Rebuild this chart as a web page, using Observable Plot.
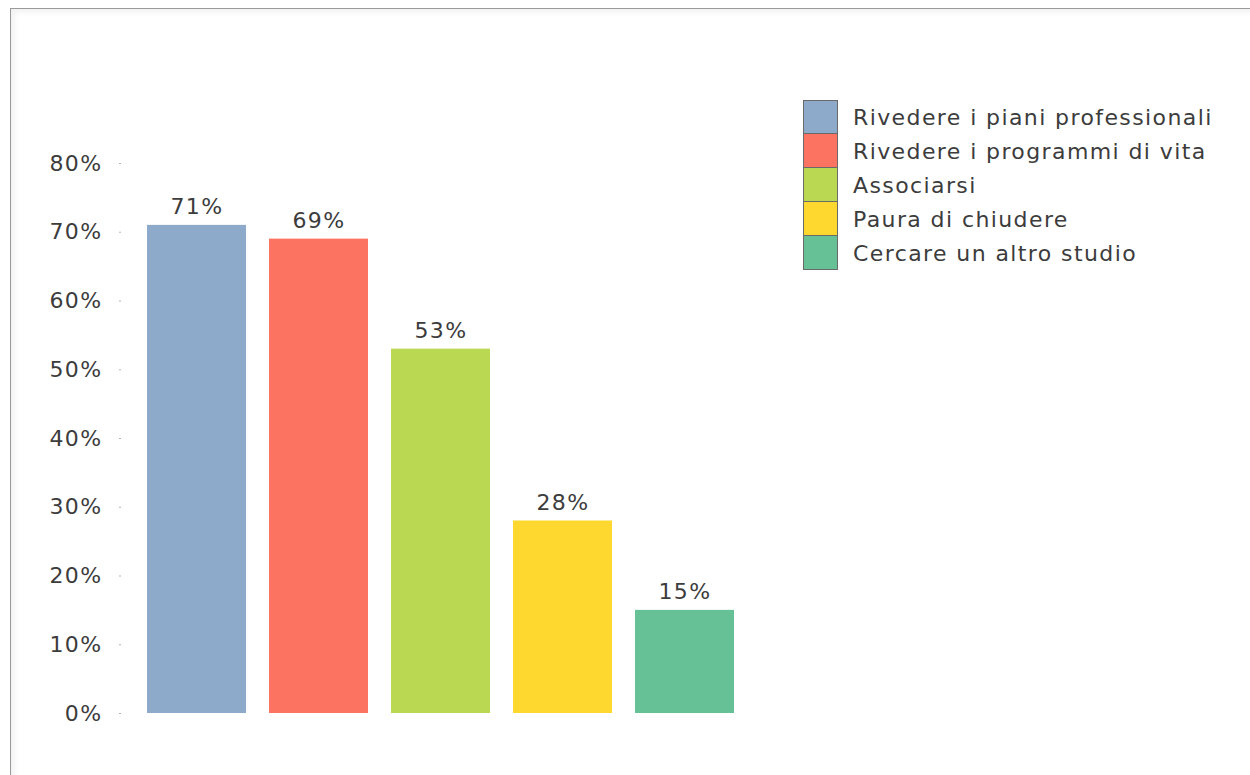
<!DOCTYPE html>
<html>
<head>
<meta charset="utf-8">
<script src="https://cdn.jsdelivr.net/npm/d3@7"></script>
<script src="https://cdn.jsdelivr.net/npm/@observablehq/plot@0.6"></script>
<style>
  html, body { margin: 0; padding: 0; background: #fff; overflow: hidden; width: 1250px; height: 775px; }
  #frame { position: absolute; left: 10px; top: 8px; width: 1300px; height: 820px; border: 1px solid #9a9a9a; box-shadow: inset 3px 3px 6px rgba(0,0,0,0.06); }
  #chart { position: absolute; left: 0; top: 0; }
  #legend { position: absolute; left: 803px; top: 100px; font-family: "DejaVu Sans", sans-serif; font-size: 22px; letter-spacing: 1.4px; color: #3c3c3c; }
  .row { display: flex; align-items: center; height: 34px; }
  .sw { width: 33px; height: 33px; border: 1px solid #6a6a6a; box-sizing: content-box; margin-top: -1px; }
  .row:first-child .sw { margin-top: 0; }
  .lab { margin-left: 15px; white-space: nowrap; }
</style>
</head>
<body>
<div id="frame"></div>
<div id="chart"></div>
<div id="legend"></div>
<script>
const categories = [
  "Rivedere i piani professionali",
  "Rivedere i programmi di vita",
  "Associarsi",
  "Paura di chiudere",
  "Cercare un altro studio"
];
const values = [71, 69, 53, 28, 15];
const colors = ["#8DAACB", "#FD7362", "#BBD852", "#FED72F", "#66C196"];
const yTicks = [0, 10, 20, 30, 40, 50, 60, 70, 80];

const data = categories.map((c, i) => ({cat: c, value: values[i]}));

const chart = Plot.plot({
  width: 1250,
  height: 775,
  marginTop: 163,
  marginBottom: 62,
  marginLeft: 121,
  marginRight: 493,
  style: {fontFamily: "DejaVu Sans, sans-serif", fontSize: "22px", letterSpacing: "1.4px", color: "#3c3c3c", background: "transparent", overflow: "visible"},
  x: {domain: categories, padding: 0.19, axis: null},
  y: {domain: [0, 80], axis: null},
  color: {domain: categories, range: colors},
  marks: [
    Plot.axisY({ticks: yTicks, tickSize: 2, tickPadding: 17, tickFormat: d => d + "%", stroke: "#b5b5b5", fill: "#3c3c3c", fontSize: 22, label: null}),
    Plot.barY(data, {x: "cat", y: "value", fill: "cat", insetLeft: 1, insetRight: -1}),
    Plot.text(data, {x: "cat", y: "value", text: d => d.value + "%", lineAnchor: "middle", dy: -18, fill: "#3c3c3c", fontSize: 22, dx: 1})
  ]
});
document.getElementById("chart").appendChild(chart);

const legend = document.getElementById("legend");
categories.forEach((c, i) => {
  const row = document.createElement("div");
  row.className = "row";
  const sw = document.createElement("div");
  sw.className = "sw";
  sw.style.background = colors[i];
  const lab = document.createElement("div");
  lab.className = "lab";
  lab.textContent = c;
  row.appendChild(sw);
  row.appendChild(lab);
  legend.appendChild(row);
});
</script>
</body>
</html>
